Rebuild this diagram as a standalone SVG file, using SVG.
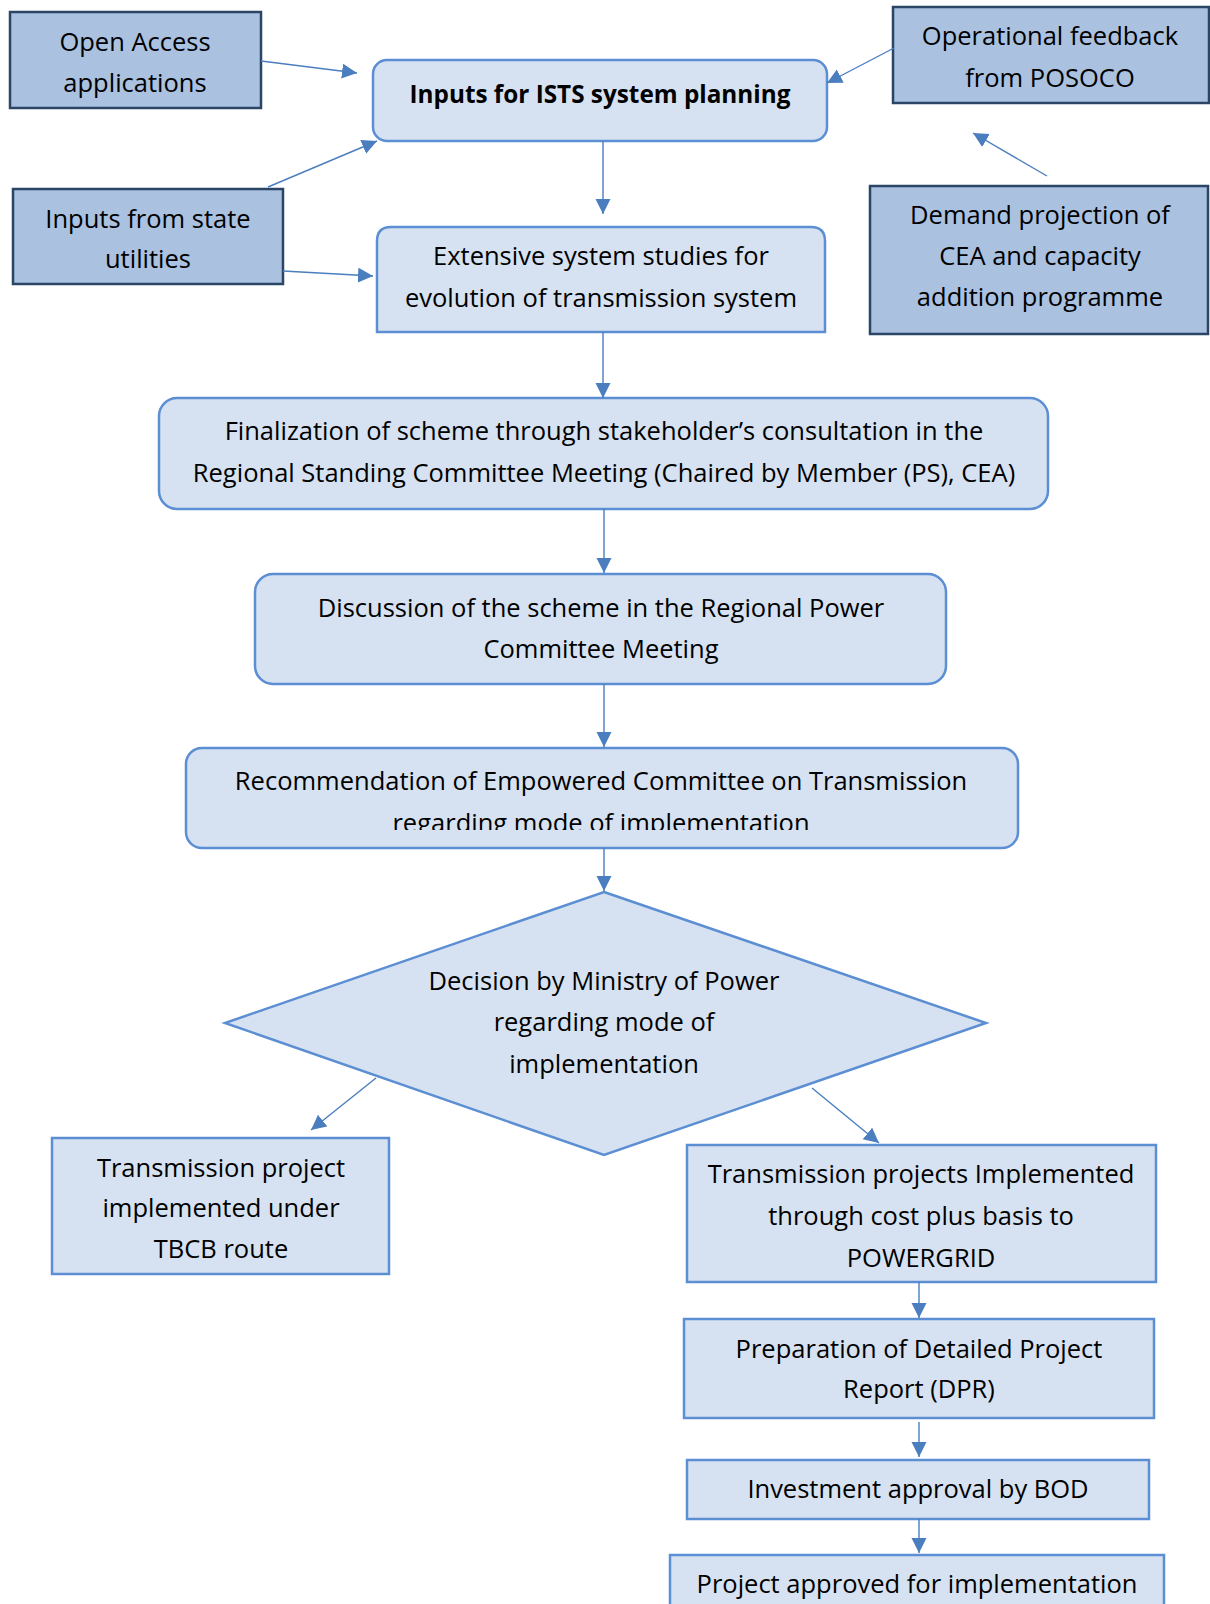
<svg xmlns="http://www.w3.org/2000/svg" width="1210" height="1604" viewBox="0 0 1210 1604">
<style>
.dark{fill:#AAC1E0;stroke:#2B4566;stroke-width:2.5}
.light{fill:#D6E2F1;stroke:#5B8ED3;stroke-width:2.5}
.t{font-family:"Open Sans","Noto Sans",sans-serif;font-size:25.5px;fill:#000;text-anchor:middle}
.b{font-weight:bold;font-size:24.3px}
.c{stroke:#4A7EBF;stroke-width:1.4;fill:none;marker-end:url(#ah)}
</style>
<defs>
<marker id="ah" markerUnits="userSpaceOnUse" markerWidth="16" markerHeight="16" refX="15" refY="7.5" orient="auto">
<path d="M0,0 L15,7.5 L0,15 Z" fill="#4A7EBF"/>
</marker>
<clipPath id="clipRec"><rect x="186" y="748" width="832" height="82"/></clipPath>
</defs>
<rect width="1210" height="1604" fill="#fff"/>

<g id="open-access">
<rect class="dark" x="10" y="12" width="251" height="96"/>
<text class="t" x="135" y="51">Open Access</text>
<text class="t" x="135" y="92">applications</text>
</g>

<g id="state-utilities">
<rect class="dark" x="13" y="189" width="270" height="95"/>
<text class="t" x="148" y="228">Inputs from state</text>
<text class="t" x="148" y="268">utilities</text>
</g>

<g id="posoco">
<rect class="dark" x="893" y="7" width="316" height="96"/>
<text class="t" x="1050" y="45">Operational feedback</text>
<text class="t" x="1050" y="87">from POSOCO</text>
</g>

<g id="demand">
<rect class="dark" x="870" y="186" width="338" height="148"/>
<text class="t" x="1040" y="224">Demand projection of</text>
<text class="t" x="1040" y="265">CEA and capacity</text>
<text class="t" x="1040" y="306">addition programme</text>
</g>

<g id="ists-inputs">
<rect class="light" x="373" y="60" width="454" height="81" rx="14"/>
<text class="t b" x="600" y="103">Inputs for ISTS system planning</text>
</g>

<g id="system-studies">
<path class="light" d="M377,332 V241 Q377,227 391,227 H811 Q825,227 825,241 V332 Z"/>
<text class="t" x="601" y="265">Extensive system studies for</text>
<text class="t" x="601" y="307">evolution of transmission system</text>
</g>

<g id="finalization">
<rect class="light" x="159" y="398" width="889" height="111" rx="18"/>
<text class="t" x="604" y="440">Finalization of scheme through stakeholder’s consultation in the</text>
<text class="t" x="604" y="482">Regional Standing Committee Meeting (Chaired by Member (PS), CEA)</text>
</g>

<g id="rpc-discussion">
<rect class="light" x="255" y="574" width="691" height="110" rx="18"/>
<text class="t" x="601" y="617">Discussion of the scheme in the Regional Power</text>
<text class="t" x="601" y="658">Committee Meeting</text>
</g>

<g id="empowered-committee">
<rect class="light" x="186" y="748" width="832" height="100" rx="16"/>
<g clip-path="url(#clipRec)">
<text class="t" x="601" y="790">Recommendation of Empowered Committee on Transmission</text>
<text class="t" x="601" y="832">regarding mode of implementation</text>
</g>
</g>

<g id="mop-decision">
<path class="light" d="M604,892 L986,1023 L604,1155 L225,1023 Z"/>
<text class="t" x="604" y="990">Decision by Ministry of Power</text>
<text class="t" x="604" y="1031">regarding mode of</text>
<text class="t" x="604" y="1073">implementation</text>
</g>

<g id="tbcb">
<rect class="light" x="52" y="1138" width="337" height="136"/>
<text class="t" x="221" y="1177">Transmission project</text>
<text class="t" x="221" y="1217">implemented under</text>
<text class="t" x="221" y="1258">TBCB route</text>
</g>

<g id="powergrid">
<rect class="light" x="687" y="1145" width="469" height="137"/>
<text class="t" x="921" y="1183">Transmission projects Implemented</text>
<text class="t" x="921" y="1225">through cost plus basis to</text>
<text class="t" x="921" y="1267">POWERGRID</text>
</g>

<g id="dpr">
<rect class="light" x="684" y="1319" width="470" height="99"/>
<text class="t" x="919" y="1358">Preparation of Detailed Project</text>
<text class="t" x="919" y="1398">Report (DPR)</text>
</g>

<g id="bod">
<rect class="light" x="687" y="1460" width="462" height="59"/>
<text class="t" x="918" y="1498">Investment approval by BOD</text>
</g>

<g id="approved">
<rect class="light" x="670" y="1555" width="494" height="80"/>
<text class="t" x="917" y="1593">Project approved for implementation</text>
</g>

<g id="connectors">
<line class="c" x1="261" y1="61" x2="357" y2="73"/>
<line class="c" x1="268" y1="187" x2="377" y2="141"/>
<line class="c" x1="283" y1="271" x2="373" y2="276"/>
<line class="c" x1="894" y1="48" x2="827" y2="83"/>
<line class="c" x1="1047" y1="176" x2="973" y2="133"/>
<line class="c" x1="603" y1="141" x2="603" y2="214"/>
<line class="c" x1="603" y1="332" x2="603" y2="398"/>
<line class="c" x1="604" y1="509" x2="604" y2="573"/>
<line class="c" x1="604" y1="684" x2="604" y2="747"/>
<line class="c" x1="604" y1="848" x2="604" y2="891"/>
<line class="c" x1="376" y1="1078" x2="311" y2="1130"/>
<line class="c" x1="812" y1="1088" x2="879" y2="1143"/>
<line class="c" x1="919" y1="1282" x2="919" y2="1318"/>
<line class="c" x1="919" y1="1422" x2="919" y2="1457"/>
<line class="c" x1="919" y1="1519" x2="919" y2="1553"/>
</g>
</svg>
